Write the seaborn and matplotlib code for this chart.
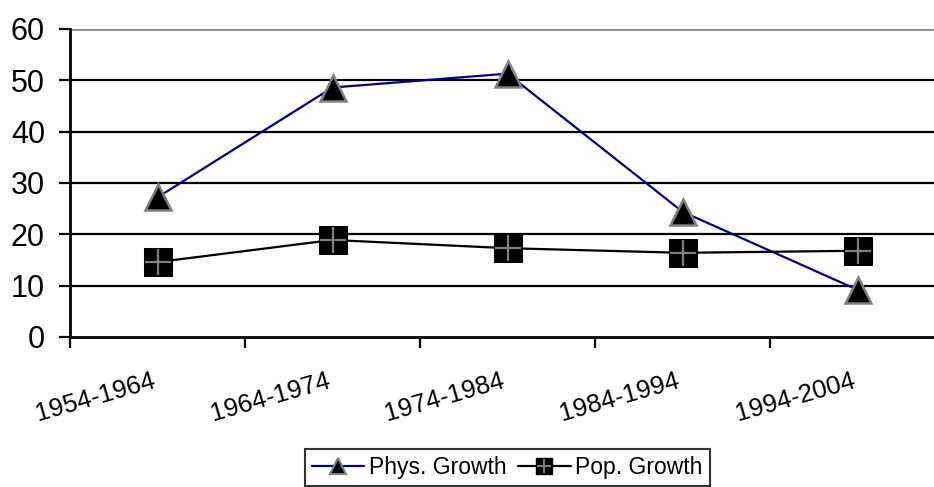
import numpy as np
import pandas as pd
import matplotlib
matplotlib.use('Agg')
import matplotlib.pyplot as plt
import seaborn as sns
from matplotlib.lines import Line2D
from matplotlib.legend_handler import HandlerTuple

# data
periods = ['1954-1964', '1964-1974', '1974-1984', '1984-1994', '1994-2004']
phys_growth = [27.2, 48.6, 51.3, 24.4, 9.2]
pop_growth = [14.6, 18.9, 17.3, 16.4, 16.8]
y_ticks = [0, 10, 20, 30, 40, 50, 60]

df = pd.DataFrame({'period': periods, 'phys': phys_growth, 'pop': pop_growth})

sns.set_style('white')
plt.rcParams['font.family'] = ['Liberation Sans', 'DejaVu Sans']
plt.rcParams['text.color'] = 'black'
plt.rcParams['xtick.color'] = 'black'
plt.rcParams['ytick.color'] = 'black'

fig = plt.figure(figsize=(9.34, 4.87), dpi=100)
ax = fig.add_axes([70 / 934, 1 - 337 / 487, 875 / 934, 308 / 487])

# gridlines (black), top one grey like the plot border
for v in y_ticks[1:-1]:
    ax.axhline(v, color='black', lw=1.6, zorder=1)
ax.axhline(y_ticks[-1], color='#8c8c8c', lw=2, zorder=1)

# Phys. Growth
sns.lineplot(data=df, x='period', y='phys', ax=ax, color='#000080', lw=1.6,
             marker='^', markersize=19, markerfacecolor='black',
             markeredgecolor='#808080', markeredgewidth=1.8, zorder=4)

# Pop. Growth: black squares with grey cross
sns.lineplot(data=df, x='period', y='pop', ax=ax, color='black', lw=1.6,
             marker='s', markersize=20, markerfacecolor='black',
             markeredgecolor='black', zorder=3)
ax.plot(df['period'], df['pop'], ls='none', marker='+', markersize=19,
        markeredgecolor='#808080', markeredgewidth=1.6, zorder=3.5)

ax.set_xlim(-0.5, 4.5)
ax.set_ylim(0, 60)
ax.set_yticks(y_ticks)
ax.tick_params(axis='y', labelsize=22, length=8, width=1.6, direction='out',
               left=True, pad=10, labelcolor='black')
ax.set_xticks(range(len(periods)))
ax.set_xticklabels(periods, rotation=16, ha='right', fontsize=18.5)
ax.tick_params(axis='x', length=0, pad=23, labelcolor='black')
ax.set_xticks(np.arange(-0.5, 5, 1), minor=True)
ax.tick_params(axis='x', which='minor', length=8, width=1.6, direction='out',
               bottom=True)
ax.set_xlabel('')
ax.set_ylabel('')

for s in ['top', 'right']:
    ax.spines[s].set_visible(False)
for s in ['left', 'bottom']:
    ax.spines[s].set_color('black')
    ax.spines[s].set_linewidth(2)

h_phys = Line2D([], [], color='#000080', lw=1.6, marker='^', markersize=11,
                markerfacecolor='black', markeredgecolor='#808080', markeredgewidth=1.5)
h_pop_sq = Line2D([], [], color='black', lw=1.6, marker='s', markersize=11,
                  markerfacecolor='black', markeredgecolor='black')
h_pop_plus = Line2D([], [], ls='none', marker='+', markersize=10,
                    markeredgecolor='#808080', markeredgewidth=1.4)
leg = fig.legend([h_phys, (h_pop_sq, h_pop_plus)], ['Phys. Growth', 'Pop. Growth'],
                 handler_map={tuple: HandlerTuple(ndivide=1)},
                 loc='upper center', bbox_to_anchor=(0.543, 1 - 449 / 487),
                 ncol=2, fontsize=16.5, frameon=True, fancybox=False,
                 handlelength=2.3, handletextpad=0.2, columnspacing=0.5,
                 borderpad=0.3, borderaxespad=0)
leg.get_frame().set_edgecolor('black')
leg.get_frame().set_linewidth(1.5)

fig.savefig('out.png', dpi=100)
